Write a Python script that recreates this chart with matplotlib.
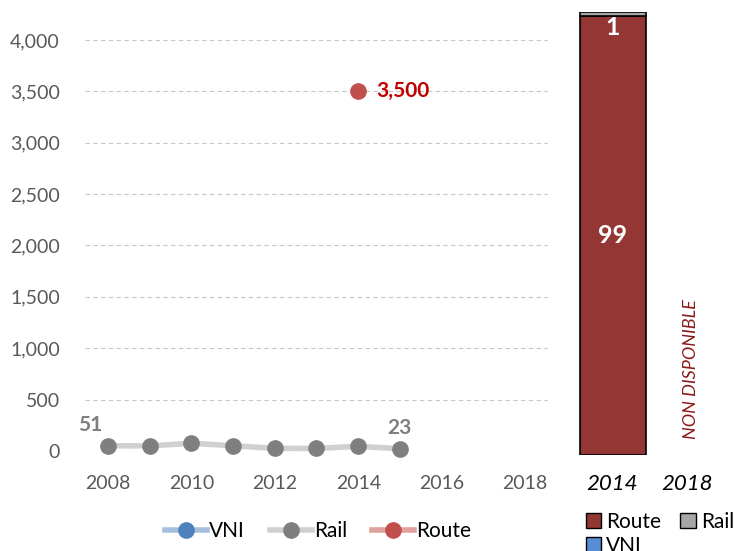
import numpy as np
import matplotlib
matplotlib.use("Agg")
import matplotlib.pyplot as plt
from matplotlib.lines import Line2D
from matplotlib.patches import Patch

plt.rcParams['font.family'] = ['Lato', 'DejaVu Sans']

# line chart data
years = [2008, 2009, 2010, 2011, 2012, 2013, 2014, 2015]
rail = [51, 50, 75, 51, 26, 25, 45, 23]
route_year = [2014]
route = [3500]

# stacked bar data (percent)
bar_years = ['2014', '2018']
bar_route = [99, 0]
bar_rail = [1, 0]

tick_col = '#595959'
grid_col = '#C8C8C8'
rail_line = '#D0D0D0'
rail_mark = '#7F7F7F'
route_mark = '#C0504D'
vni_col = '#4F81BD'

fig = plt.figure(figsize=(7.34, 5.51), dpi=100)

# ---- left: line chart ----
ax = fig.add_axes([85 / 734, 1 - 451 / 551, 463 / 734, 431.6 / 551])
ax.plot(years, rail, color=rail_line, lw=4, zorder=2, clip_on=False)
ax.plot(years, rail, 'o', color=rail_mark, ms=11, zorder=3, clip_on=False)
ax.plot(route_year, route, 'o', color=route_mark, ms=11, zorder=3, clip_on=False)

ax.set_xlim(2007.45, 2018.55)
ax.set_ylim(0, 4200)
ax.set_xticks(range(2008, 2019, 2))
ax.set_yticks(range(0, 4001, 500))
ax.yaxis.set_major_formatter(matplotlib.ticker.FuncFormatter(lambda v, p: f'{int(v):,}'))
ax.tick_params(length=0, labelsize=14, labelcolor=tick_col)
ax.tick_params(axis='x', pad=17)
ax.tick_params(axis='y', pad=18)
for s in ax.spines.values():
    s.set_visible(False)
ax.grid(axis='y', color=grid_col, ls=(0, (4, 3)), lw=0.8)
ax.set_axisbelow(True)

ax.annotate(f'{rail[0]}', (years[0], rail[0]), xytext=(-13, 8), textcoords='offset points',
            ha='center', va='bottom', fontsize=15, fontweight='bold', color=rail_mark)
ax.annotate(f'{rail[-1]}', (years[-1], rail[-1]), xytext=(0, 8), textcoords='offset points',
            ha='center', va='bottom', fontsize=15, fontweight='bold', color=rail_mark)
ax.annotate(f'{route[0]:,}', (route_year[0], route[0]), xytext=(13, 0), textcoords='offset points',
            ha='left', va='center', fontsize=15, fontweight='bold', color='#C00000')

handles = [
    Line2D([], [], color='#A7BFDE', lw=4, marker='o', ms=11, mfc=vni_col, mec=vni_col),
    Line2D([], [], color=rail_line, lw=4, marker='o', ms=11, mfc=rail_mark, mec=rail_mark),
    Line2D([], [], color='#E0A09E', lw=4, marker='o', ms=11, mfc=route_mark, mec=route_mark),
]
fig.legend(handles, ['VNI', 'Rail', 'Route'], loc='center', bbox_to_anchor=(318 / 734, 1 - 531 / 551),
           ncol=3, frameon=False, fontsize=15, handlelength=2.0, handletextpad=0.1, columnspacing=1.2)

# ---- right: stacked bar ----
bx = fig.add_axes([575 / 734, 1 - 455 / 551, 150 / 734, 443 / 551])
x = np.arange(len(bar_years))
has = [r + q > 0 for r, q in zip(bar_route, bar_rail)]
xs = x[has]
bx.bar(xs, np.array(bar_route)[has], width=0.88, color='#943634', edgecolor='black', lw=1.2)
bx.bar(xs, np.array(bar_rail)[has], bottom=np.array(bar_route)[has], width=0.88,
       color='#A6A6A6', edgecolor='black', lw=1.2)
bx.set_xlim(-0.5, 1.5)
bx.set_ylim(0, 100)
bx.set_xticks(x)
bx.set_xticklabels(bar_years, fontsize=16, style='italic', color='black')
bx.set_yticks([])
bx.tick_params(length=0, pad=14)
for s in bx.spines.values():
    s.set_visible(False)

bx.text(0, bar_route[0] / 2, f'{bar_route[0]}', ha='center', va='center', color='white',
        fontsize=18, fontweight='bold')
bx.text(0, 96.4, f'{bar_rail[0]}', ha='center', va='center', color='white',
        fontsize=18, fontweight='bold')
bx.text(1.04, 19.3, 'NON DISPONIBLE', rotation=90, ha='center', va='center',
        color='#8B1A1A', fontsize=13, style='italic')

bh = [Patch(facecolor='#943634', edgecolor='black'),
      Patch(facecolor='#558ED5', edgecolor='black'),
      Patch(facecolor='#A6A6A6', edgecolor='black')]
fig.legend(bh, ['Route', 'VNI', 'Rail'], loc='upper left', bbox_to_anchor=(571 / 734, 1 - 497 / 551),
           ncol=2, frameon=False, fontsize=15, handlelength=0.75, handleheight=0.75,
           handletextpad=0.25, columnspacing=0.9, labelspacing=0.2, borderpad=0.2)

fig.savefig('out.png', dpi=100)
